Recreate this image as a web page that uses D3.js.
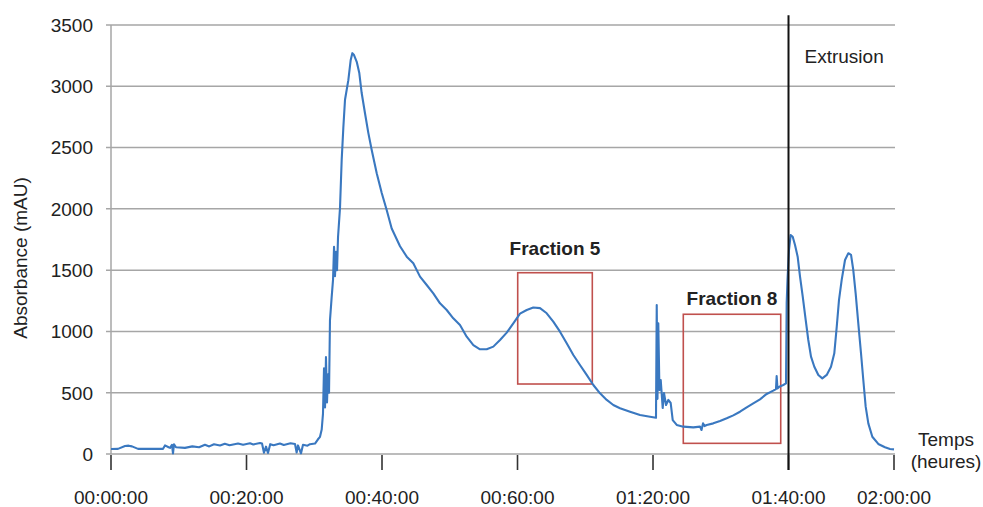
<!DOCTYPE html>
<html><head><meta charset="utf-8">
<script src="https://cdn.jsdelivr.net/npm/d3@7"></script>
<style>body{margin:0;background:#fff}svg{display:block;font-family:"Liberation Sans",Arial,sans-serif}</style>
</head><body><svg id="c" width="983" height="507"></svg>
<script>
// ---- data ----
const timeMin = [0,1.03,2.07,2.6,3.1,3.99,5.76,7.68,7.97,8.5,8.71,9.0,9.15,9.3,9.59,10.92,12.0,13.0,13.87,14.5,15.2,16.09,16.8,17.5,18.75,19.5,20.52,21.0,22.0,22.29,22.58,22.88,23.17,23.5,24.0,24.94,25.5,26.5,27.16,27.4,27.6,28.04,28.34,29.0,29.37,30.11,30.55,30.85,31.1,31.29,31.44,31.59,31.73,31.88,32.03,32.18,32.32,32.57,32.77,32.92,33.06,33.21,33.36,33.51,33.8,34.05,34.29,34.54,35.03,35.38,35.62,35.87,36.27,36.65,37.0,37.49,37.98,38.48,39.22,39.96,40.69,41.43,42.66,43.65,44.62,45.61,46.6,47.57,48.56,49.55,50.52,51.51,52.5,53.48,54.46,55.45,56.43,57.42,58.41,59.38,60.37,61.36,62.33,63.32,64.31,65.28,66.27,67.26,68.24,69.22,70.21,71.19,72.18,73.17,74.14,75.13,76.61,78.08,79.56,80.44,80.55,80.66,80.78,80.95,81.14,81.43,81.62,81.92,82.26,82.61,82.91,83.5,84.47,85.95,86.94,87.16,87.38,87.6,87.93,88.9,89.89,90.88,91.85,92.84,93.83,94.8,95.79,96.78,97.75,98.15,98.25,98.37,98.64,99.23,99.63,99.73,99.85,100.07,100.32,100.62,100.96,101.35,101.7,102.1,102.54,102.92,103.32,103.81,104.4,104.99,105.64,106.27,106.76,107.12,107.45,107.85,108.34,108.83,109.23,109.56,109.91,110.3,110.7,111.04,111.39,111.78,112.37,113.25,114.24,114.98,115.57];
const absorbance = [41,42,65,68,62,42,42,42,70,55,50,75,5,80,55,50,62,55,75,62,80,70,84,72,86,76,88,78,90,85,10,60,8,80,72,86,74,88,82,12,70,5,75,68,80,85,120,140,200,330,700,380,790,420,650,500,1090,1280,1420,1690,1450,1650,1500,1770,2007,2400,2660,2890,3050,3215,3270,3255,3200,3108,2945,2780,2620,2480,2290,2130,1990,1840,1695,1610,1556,1447,1379,1311,1229,1175,1107,1052,957,889,854,854,876,930,990,1066,1145,1175,1195,1190,1148,1080,998,903,808,726,645,563,495,441,400,373,345,318,304,296,1216,450,1066,522,604,375,498,400,441,416,277,237,223,217,223,196,250,228,237,250,269,291,315,345,381,413,446,490,517,530,636,535,549,563,576,1232,1420,1664,1787,1773,1705,1610,1447,1284,1093,930,794,712,645,617,645,712,822,1039,1256,1420,1583,1638,1624,1501,1311,1066,822,604,386,250,141,82,55,41,38];
const xTickValues = [0,20,40,60,80,100,115.57];
const xTickLabels = ["00:00:00","00:20:00","00:40:00","00:60:00","01:20:00","01:40:00","02:00:00"];
const yTickValues = [0,500,1000,1500,2000,2500,3000,3500];
const fractionNames = ["Fraction 5","Fraction 8"];
const fractionT0 = [60.03,84.47];
const fractionT1 = [71.04,98.85];
const fractionVTop = [1479,1140];
const fractionVBottom = [571,87];
const extrusionTime = 100;
const extrusionTop = 3580;

// ---- chart ----
const svg = d3.select("#c");
const x = d3.scaleLinear().domain([0,115.57]).range([111,894]);
const y = d3.scaleLinear().domain([0,3500]).range([454,25]);
const grid = "#a6a6a6", txt = "#222";
const labelGap = [18, 9];

svg.append("g").selectAll("line").data(yTickValues).join("line")
  .attr("x1",106).attr("x2",895).attr("y1",d=>y(d)).attr("y2",d=>y(d))
  .attr("stroke",grid).attr("stroke-width",1.5);
svg.append("line").attr("x1",x(0)).attr("x2",x(0)).attr("y1",y(3500)).attr("y2",y(0))
  .attr("stroke",grid).attr("stroke-width",1.5);
svg.append("g").selectAll("text").data(yTickValues).join("text")
  .attr("x",93).attr("y",d=>y(d)).attr("dy","0.36em").attr("text-anchor","end")
  .attr("font-size",19).attr("fill",txt).text(d=>d);
svg.append("g").selectAll("line").data(xTickValues).join("line")
  .attr("x1",d=>x(d)).attr("x2",d=>x(d)).attr("y1",y(0)+1).attr("y2",y(0)+16)
  .attr("stroke","#333").attr("stroke-width",1.6);
svg.append("g").selectAll("text").data(xTickValues).join("text")
  .attr("x",d=>x(d)).attr("y",504).attr("text-anchor","middle")
  .attr("font-size",19).attr("fill",txt).text((d,i)=>xTickLabels[i]);

svg.append("text").attr("transform","translate(27,258) rotate(-90)")
  .attr("text-anchor","middle").attr("font-size",19).attr("fill",txt).text("Absorbance (mAU)");
svg.append("text").attr("x",946).attr("y",446).attr("text-anchor","middle")
  .attr("font-size",19).attr("fill",txt).text("Temps");
svg.append("text").attr("x",946).attr("y",468).attr("text-anchor","middle")
  .attr("font-size",19).attr("fill",txt).text("(heures)");

const fr = fractionNames.map((n,i)=>({n,t0:fractionT0[i],t1:fractionT1[i],v0:fractionVTop[i],v1:fractionVBottom[i],g:labelGap[i]}));
svg.append("g").selectAll("rect").data(fr).join("rect")
  .attr("x",d=>x(d.t0)).attr("y",d=>y(d.v0)).attr("width",d=>x(d.t1)-x(d.t0)).attr("height",d=>y(d.v1)-y(d.v0))
  .attr("fill","none").attr("stroke","#c0504d").attr("stroke-width",1.6);
svg.append("g").selectAll("text").data(fr).join("text")
  .attr("x",d=>(x(d.t0)+x(d.t1))/2).attr("y",d=>y(d.v0)-d.g).attr("text-anchor","middle")
  .attr("font-size",19).attr("font-weight","bold").attr("fill",txt).text(d=>d.n);

const pts = timeMin.map((t,i)=>[t,absorbance[i]]);
svg.append("path").datum(pts)
  .attr("d",d3.line().x(d=>x(d[0])).y(d=>y(d[1])))
  .attr("fill","none").attr("stroke","#3a78c0").attr("stroke-width",2.1).attr("stroke-linejoin","round");

svg.append("line").attr("x1",x(extrusionTime)).attr("x2",x(extrusionTime))
  .attr("y1",y(extrusionTop)).attr("y2",y(0)+16).attr("stroke","#111").attr("stroke-width",2);
svg.append("text").attr("x",x(extrusionTime)+16).attr("y",63).attr("font-size",19).attr("fill",txt).text("Extrusion");
</script></body></html>
